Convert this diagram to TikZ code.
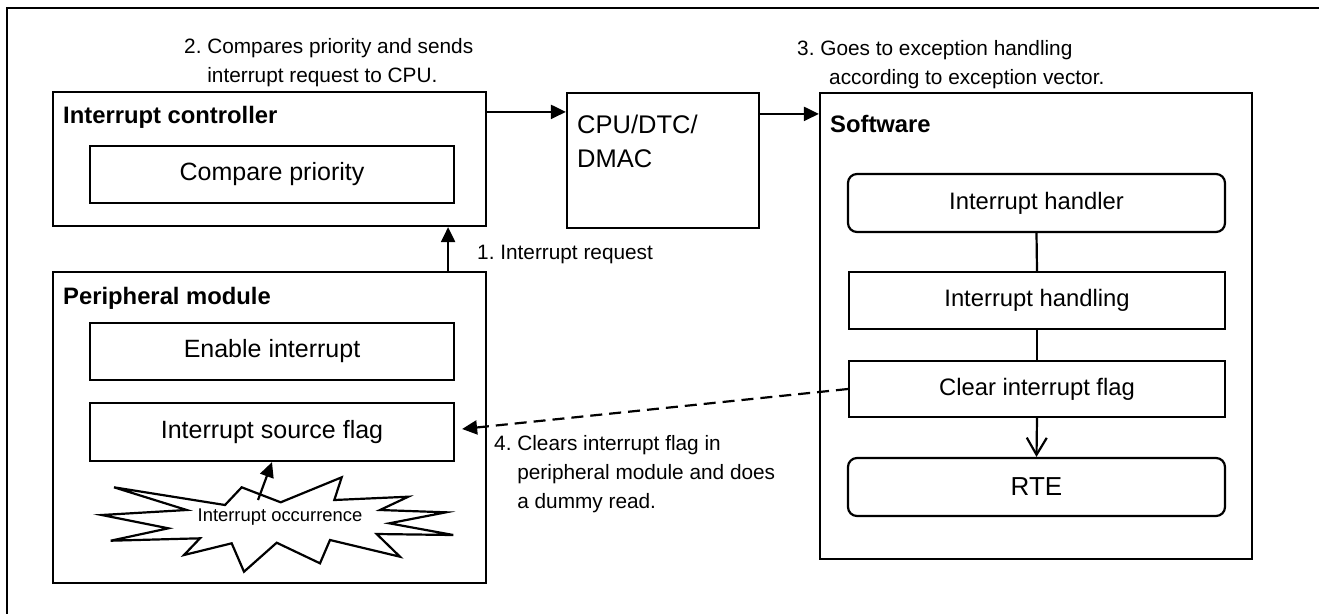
\documentclass[tikz,border=0pt]{standalone}
\usepackage{fontspec}
\setmainfont{Liberation Sans}
\usetikzlibrary{arrows.meta,calc}
\frenchspacing
\begin{document}
\begin{tikzpicture}[x=1pt,y=-1pt,
  lw/.style={line width=2.2pt},
  box/.style={draw,lw,inner sep=0pt,align=center,font=\fontsize{25}{30}\selectfont},
  swbox/.style={box,font=\fontsize{23.8}{28}\selectfont},
  title/.style={inner sep=0pt,font=\bfseries\fontsize{23.8}{28}\selectfont},
  lab/.style={inner sep=0pt,font=\fontsize{20.8}{29}\selectfont},
  arr/.style={lw,-{Triangle[length=15pt,width=14pt]}},
  openarr/.style={lw,-{Straight Barb[length=17pt,width=20pt]}},
  dashline/.style={lw,dash pattern=on 12pt off 7pt}
]
\useasboundingbox (0,0) rectangle (1319,614);
% outer frame
\draw[line width=2pt] (1319,8) -- (7,8) -- (7,614);

% Interrupt controller
\node[box, minimum width=433pt, minimum height=134pt] (ic) at (269.5,159) {};
\node[title, anchor=base west] (ict) at (63,123) {Interrupt controller};
\node[box, minimum width=364pt, minimum height=57pt] (cmp) at (272,174.5) {Compare priority};

% CPU
\node[box, minimum width=192pt, minimum height=135pt] (cpu) at (663,160.5) {};
\node[anchor=base west, inner sep=0pt, font=\fontsize{25.5}{34}\selectfont] (cput) at (577,133)
  {\begin{tabular}[t]{@{}l@{}}CPU/DTC/\\DMAC\end{tabular}};

% Software
\node[box, minimum width=432pt, minimum height=466pt] (sw) at (1036,326) {};
\node[title, anchor=base west] (swt) at (830,132) {Software};
\node[swbox, rounded corners=9pt, minimum width=377pt, minimum height=58pt] (h1) at (1036.5,203) {Interrupt handler};
\node[swbox, minimum width=376pt, minimum height=57pt] (h2) at (1037,300.5) {Interrupt handling};
\node[swbox, minimum width=376pt, minimum height=56pt] (h3) at (1037,389) {Clear interrupt flag};
\node[box, rounded corners=9pt, font=\fontsize{26}{30}\selectfont, minimum width=377pt, minimum height=58pt] (rte) at (1036.5,487) {RTE};

% Peripheral module
\node[box, minimum width=433pt, minimum height=311pt] (pm) at (269.5,427.5) {};
\node[title, anchor=base west] (pmt) at (63,304) {Peripheral module};
\node[box, minimum width=364pt, minimum height=57pt] (en) at (272,351.5) {Enable interrupt};
\node[box, minimum width=364pt, minimum height=58pt] (src) at (272,432) {Interrupt source flag};

% starburst
\draw[lw, line join=miter, fill=white] (114,487.3) -- (225,505) -- (241.7,487.3) -- (280.7,502.3)
  -- (341.7,477.3) -- (334.3,500) -- (408.3,496.7) -- (380,510) -- (446,512.3)
  -- (389.3,523.3) -- (453.3,535) -- (376.7,534) -- (400,556.7) -- (330,540)
  -- (320,563.3) -- (276.7,542.7) -- (244,571.7) -- (231.7,543.3) -- (184,555)
  -- (200,538.3) -- (110.7,540.7) -- (168.3,528.3) -- (101.7,515) -- (186.7,510) -- cycle;
\node[inner sep=0pt, font=\fontsize{18.4}{22}\selectfont] (occt) at (280,517) {Interrupt occurrence};
\coordinate (occ) at (258,500);

% annotations
\node[lab, anchor=base west] (l2) at (184,53)
  {\begin{tabular}[t]{@{}l@{}}2. Compares priority and sends\\\hphantom{2.\ }interrupt request to CPU.\end{tabular}};
\node[lab, anchor=base west] (l3) at (797,55)
  {\begin{tabular}[t]{@{}l@{}}3. Goes to exception handling\\\hspace*{32pt}according to exception vector.\end{tabular}};
\node[lab, anchor=base west] (l1) at (477,259) {1. Interrupt request};
\node[lab, anchor=base west] (l4) at (494,450)
  {\begin{tabular}[t]{@{}l@{}}4. Clears interrupt flag in\\\hphantom{4.\ }peripheral module and does\\\hphantom{4.\ }a dummy read.\end{tabular}};

% connectors
\draw[arr] ([yshift=-21pt]ic.north east) coordinate (a1) -- (a1 -| cpu.west);
\draw[arr] ([yshift=-22pt]cpu.north east) coordinate (a2) -- (a2 -| sw.west);
\draw[arr] ([xshift=-39pt]pm.north east) coordinate (a3) -- (a3 |- ic.south);
\draw[lw] (h1.south) -- (h2.north);
\draw[lw] (h2.south) -- (h3.north);
\draw[openarr] (h3.south) -- (rte.north);
\draw[dashline, -{Triangle[length=15pt,width=14pt]}] (h3.west) -- ([xshift=7pt,yshift=3pt]src.east);
\draw[arr] (occ) -- (src.south);
\end{tikzpicture}
\end{document}
